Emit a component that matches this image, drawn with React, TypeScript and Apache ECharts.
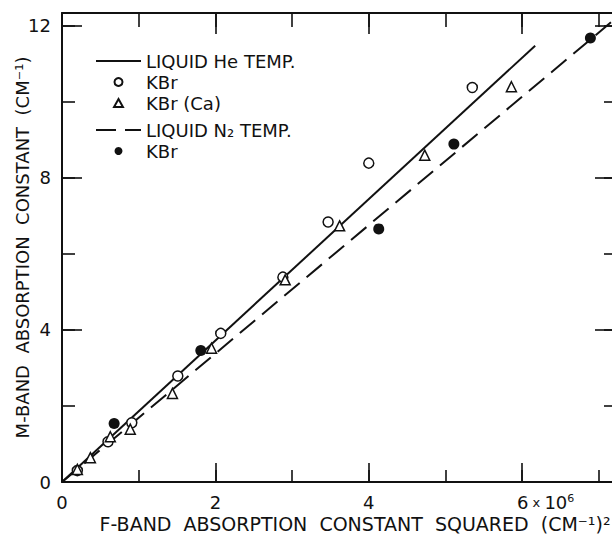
import React, { useEffect, useRef } from 'react';
import * as echarts from 'echarts';

// Fitted lines (endpoints)
const heLine: number[][] = [[0, 0], [6.17, 11.48]];
const n2Line: number[][] = [[0, 0], [7.25, 12.25]];

// Liquid He temperature, KBr (open circles)
const heKBr: number[][] = [
  [0.2, 0.3], [0.6, 1.06], [0.91, 1.56], [1.51, 2.79], [2.07, 3.91],
  [2.88, 5.39], [3.47, 6.84], [4.0, 8.39], [5.35, 10.38],
];
// Liquid He temperature, KBr (Ca) (open triangles)
const heKBrCa: number[][] = [
  [0.2, 0.33], [0.37, 0.64], [0.63, 1.19], [0.89, 1.39], [1.44, 2.33],
  [1.95, 3.52], [2.91, 5.32], [3.62, 6.74], [4.73, 8.6], [5.86, 10.4],
];
// Liquid N2 temperature, KBr (filled circles)
const n2KBr: number[][] = [
  [0.68, 1.54], [1.81, 3.46], [4.13, 6.66], [5.11, 8.89], [6.89, 11.68],
];

const xLabelled = [0, 2, 4];
const yLabelled = [0, 4, 8, 12];
const xTitle = 'F-BAND  ABSORPTION  CONSTANT  SQUARED  (CM⁻¹)²';
const yTitle = 'M-BAND  ABSORPTION  CONSTANT  (CM⁻¹)';

export default function App() {
  const ref = useRef<HTMLDivElement>(null);
  useEffect(() => {
    const chart = echarts.init(ref.current!, null, { renderer: 'svg' });
    const ink = '#111';
    const font = 'DejaVu Sans';
    const X_MAX = 7.25;
    const Y_MAX = 12.34;
    const triPath = 'path://M5,0 L10,9 L0,9 Z';

    const xAx = (pos: 'top' | 'bottom', interval: number, len: number, line: boolean, extra: any = {}) => ({
      type: 'value', position: pos, min: 0, max: X_MAX, interval,
      axisLine: { show: line, onZero: false, lineStyle: { color: ink, width: 2 } },
      axisTick: { show: true, inside: true, length: len, lineStyle: { color: ink, width: 1.6 } },
      axisLabel: { show: false },
      splitLine: { show: false },
      ...extra,
    });
    const yAx = (pos: 'left' | 'right', interval: number, len: number, line: boolean, extra: any = {}) => ({
      type: 'value', position: pos, min: 0, max: Y_MAX, interval,
      axisLine: { show: line, onZero: false, lineStyle: { color: ink, width: 2 } },
      axisTick: { show: true, inside: true, length: len, lineStyle: { color: ink, width: 1.6 } },
      axisLabel: { show: false },
      splitLine: { show: false },
      ...extra,
    });

    const legendText = { fontFamily: font, fontSize: 18, color: ink };
    const option: any = {
      animation: false,
      backgroundColor: '#fff',
      textStyle: { fontFamily: font, color: ink },
      grid: { left: 62, top: 13, width: 556, height: 469, outerBoundsMode: 'none', containLabel: false },
      legend: [
        {
          left: 90, top: 47, orient: 'vertical', itemWidth: 45, itemHeight: 8, itemGap: 3,
          data: [
            { name: 'LIQUID He TEMP.', itemStyle: { opacity: 0 } },
            { name: 'KBr', icon: 'circle' },
            { name: 'KBr (Ca)', icon: triPath },
          ],
          symbolKeepAspect: true,
          textStyle: legendText,
          selectedMode: false,
        },
        {
          left: 90, top: 116, orient: 'vertical', itemWidth: 45, itemHeight: 8, itemGap: 3,
          data: [
            { name: 'LIQUID N₂ TEMP.', itemStyle: { opacity: 0 } },
            { name: 'KBr ', icon: 'circle' },
          ],
          symbolKeepAspect: true,
          textStyle: legendText,
          selectedMode: false,
        },
      ],
      xAxis: [
        xAx('bottom', 1, 12, true, {
          name: xTitle, nameLocation: 'middle', nameGap: 32, nameMoveOverlap: false,
          nameTextStyle: { fontFamily: font, fontSize: 19, color: ink, padding: [0, 0, 0, 30] },
          axisLabel: {
            show: true, margin: 11, fontFamily: font, fontSize: 18, color: ink,
            formatter: (v: number) => {
              if (Math.abs(v - 6) < 1e-9) return '{a|6}{x| x }{n|10}{s|6}';
              return xLabelled.some((t) => Math.abs(t - v) < 1e-9) ? String(v) : '';
            },
            rich: {
              a: { fontSize: 18, fontFamily: font, color: ink, padding: [0, 0, 0, 47] },
              x: { fontSize: 13, fontFamily: font, color: ink },
              n: { fontSize: 18, fontFamily: font, color: ink },
              s: { fontSize: 11, fontFamily: font, color: ink, verticalAlign: 'top' },
            },
          },
        }),
        xAx('bottom', 2, 19, false),
        xAx('top', 1, 14, true),
        xAx('top', 2, 21, false),
      ],
      yAxis: [
        yAx('left', 2, 13, true, {
          name: yTitle, nameLocation: 'middle', nameGap: 31, nameRotate: 90, nameMoveOverlap: false,
          nameTextStyle: { fontFamily: font, fontSize: 18, color: ink },
          axisLabel: {
            show: true, margin: 11, fontFamily: font, fontSize: 18, color: ink,
            formatter: (v: number) => (yLabelled.some((t) => Math.abs(t - v) < 1e-9) ? String(v) : ''),
          },
        }),
        yAx('left', 4, 20, false),
        yAx('right', 2, 14, true),
        yAx('right', 4, 23, false),
      ],
      series: [
        {
          name: 'LIQUID He TEMP.', type: 'line', data: heLine, symbol: 'none',
          lineStyle: { color: ink, width: 2 }, itemStyle: { color: ink }, z: 2,
        },
        {
          name: 'KBr', type: 'scatter', data: heKBr, symbol: 'circle', symbolSize: 10,
          itemStyle: { color: '#fff', borderColor: ink, borderWidth: 1.5, opacity: 1 }, z: 3,
        },
        {
          name: 'KBr (Ca)', type: 'scatter', data: heKBrCa, symbol: 'triangle', symbolSize: 10,
          itemStyle: { color: '#fff', borderColor: ink, borderWidth: 1.5, opacity: 1 }, z: 3,
        },
        {
          name: 'LIQUID N₂ TEMP.', type: 'line', data: n2Line, symbol: 'none',
          lineStyle: { color: ink, width: 2, type: [20, 9] }, itemStyle: { color: ink }, z: 2,
        },
        {
          name: 'KBr ', type: 'scatter', data: n2KBr, symbol: 'circle', symbolSize: 11,
          itemStyle: { color: ink, opacity: 1 }, z: 3,
        },
      ],
    };
    chart.setOption(option);
    return () => chart.dispose();
  }, []);
  return (
    <div
      ref={ref}
      style={{ position: 'fixed', left: 0, top: 0, width: 612, height: 535, background: '#fff' }}
    />
  );
}
